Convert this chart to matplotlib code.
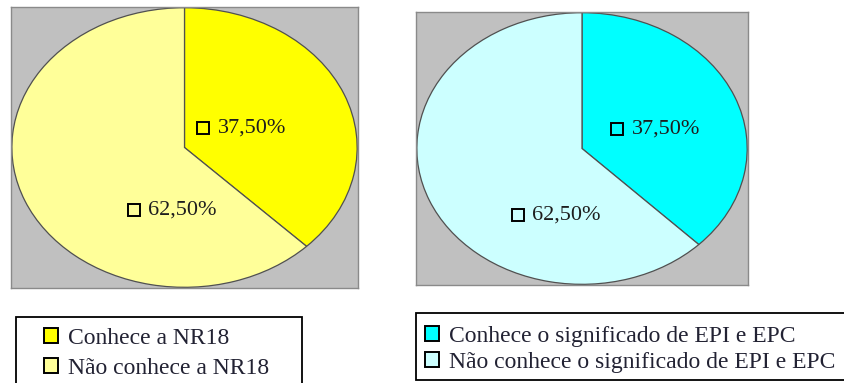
import matplotlib
matplotlib.use("Agg")
import matplotlib.pyplot as plt
from matplotlib.patches import Patch, Rectangle
from matplotlib.transforms import offset_copy

# ---- data ----
nr18_labels = ["Conhece a NR18", "Não conhece a NR18"]
nr18_values = [37.5, 62.5]
nr18_colors = ["#ffff00", "#ffff99"]

epi_labels = ["Conhece o significado de EPI e EPC", "Não conhece o significado de EPI e EPC"]
epi_values = [37.5, 62.5]
epi_colors = ["#00ffff", "#ccffff"]

# label anchor (left edge of text) positions in pie data coords
nr18_label_pos = [(0.193, 0.139), (-0.21, -0.445)]
epi_label_pos = [(0.30, 0.143), (-0.30, -0.487)]

W, H = 845, 383
plt.rcParams['font.family'] = ['Liberation Serif', 'DejaVu Serif']
fig = plt.figure(figsize=(W / 100, H / 100), dpi=100)


def fmt(v):
    return f"{v:.2f}".replace(".", ",") + "%"


def draw_pie(rect_px, values, colors, label_pos):
    x0, y0, x1, y1 = rect_px
    ax = fig.add_axes([x0 / W, 1 - y1 / H, (x1 - x0) / W, (y1 - y0) / H])
    wedges, _ = ax.pie(values, colors=colors, startangle=90, counterclock=False,
                       wedgeprops=dict(edgecolor="#505050", linewidth=0.9))
    for w in wedges:
        w.set_clip_on(False)
    ax.set_aspect("auto")
    ax.set_xlim(-1.005, 1.005)
    ax.set_ylim(-1.005, 1.005)
    ax.set_frame_on(True)
    ax.set_facecolor("#c0c0c0")
    for s in ax.spines.values():
        s.set_edgecolor("#8a8a8a")
        s.set_linewidth(1.0)
    ax.set_xticks([])
    ax.set_yticks([])
    for v, (lx, ly) in zip(values, label_pos):
        ax.text(lx, ly, fmt(v), ha="left", va="center", fontsize=16,
                color="#1e1e1e")
        tr = offset_copy(ax.transData, fig=fig, x=-10.5, y=0, units="points")
        ax.plot([lx], [ly], marker="s", markersize=8.5, markerfacecolor="none",
                markeredgecolor="black", markeredgewidth=1.4, linestyle="none",
                transform=tr, clip_on=False)
    return ax


draw_pie((11, 7, 358, 288), nr18_values, nr18_colors, nr18_label_pos)
draw_pie((416, 12, 748, 285), epi_values, epi_colors, epi_label_pos)


def draw_legend(frame_px, anchor_px, labels, colors, spacing):
    fx0, fy0, fx1, fy1 = frame_px
    fig.patches.append(Rectangle((fx0 / W, 1 - fy1 / H), (fx1 - fx0) / W, (fy1 - fy0) / H,
                                 transform=fig.transFigure, facecolor="white",
                                 edgecolor="black", linewidth=1.3, zorder=0))
    handles = [Patch(facecolor=c, edgecolor="black", linewidth=1.4) for c in colors]
    ax_, ay_ = anchor_px
    leg = fig.legend(handles, labels, loc="upper left",
                     bbox_to_anchor=(ax_ / W, 1 - ay_ / H),
                     fontsize=17, frameon=False,
                     handlelength=0.6, handleheight=0.6, handletextpad=0.42,
                     labelspacing=spacing, borderpad=0, borderaxespad=0,
                     labelcolor="#222233")
    return leg


draw_legend((16, 317, 302, 395), (44, 328), nr18_labels, nr18_colors, 0.36)
draw_legend((416, 313, 850, 380), (425, 326), epi_labels, epi_colors, 0.21)

fig.savefig("out.png", dpi=100)
